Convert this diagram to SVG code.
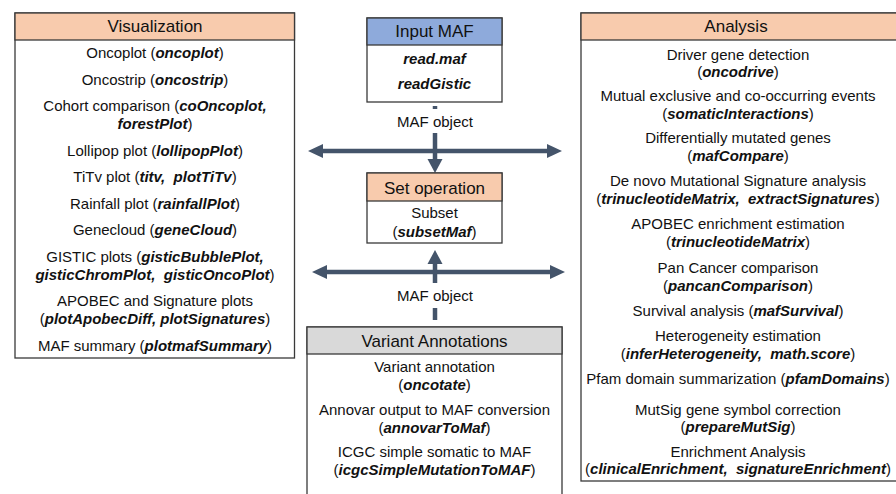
<svg xmlns="http://www.w3.org/2000/svg" width="896" height="494" viewBox="0 0 896 494">
<style>
text{font-family:"Liberation Sans",Arial,sans-serif;fill:#111;text-anchor:middle}
.h{font-size:17px}
.t{font-size:15px}
.b{font-weight:bold;font-style:italic}
.box{fill:#fff;stroke:#3a3a3a;stroke-width:1.3}
.hd{stroke:#3a3a3a;stroke-width:1.3}
.sal{fill:#f8cbad}
.blu{fill:#8eaadb}
.gry{fill:#d9d9d9}
.shaft{stroke:#44546a;stroke-width:4.5;fill:none}
.head{fill:#44546a}
</style>
<rect width="896" height="494" fill="#fff"/>

<g id="connectors">
  <!-- upper horizontal double arrow -->
  <line class="shaft" x1="320" y1="151" x2="550" y2="151"/>
  <polygon class="head" points="308,151 323,144 323,158"/>
  <polygon class="head" points="562,151 547,144 547,158"/>
  <!-- lower horizontal double arrow -->
  <line class="shaft" x1="324" y1="272" x2="553" y2="272"/>
  <polygon class="head" points="312,272 327,265 327,279"/>
  <polygon class="head" points="565,272 550,265 550,279"/>
  <!-- down arrow Input MAF -> Set operation -->
  <line class="shaft" x1="435" y1="106" x2="435" y2="109"/>
  <line class="shaft" x1="435" y1="133" x2="435" y2="161"/>
  <polygon class="head" points="435,173 427.5,159 442.5,159"/>
  <!-- up arrow Variant Annotations -> Set operation -->
  <line class="shaft" x1="435" y1="261" x2="435" y2="283"/>
  <polygon class="head" points="435,250 427.5,264 442.5,264"/>
  <line class="shaft" x1="435" y1="308" x2="435" y2="320"/>
  <text class="t" x="435" y="127">MAF object</text>
  <text class="t" x="435" y="301">MAF object</text>
</g>

<g id="visualization">
  <rect class="box" x="15" y="13" width="279.5" height="345"/>
  <rect class="hd sal" x="15" y="13" width="279.5" height="27"/>
  <text class="h" x="155" y="32">Visualization</text>
  <text class="t" x="155" y="58">Oncoplot (<tspan class="b">oncoplot</tspan>)</text>
  <text class="t" x="155" y="84.5">Oncostrip (<tspan class="b">oncostrip</tspan>)</text>
  <text class="t" x="155" y="111">Cohort comparison (<tspan class="b">coOncoplot,</tspan></text>
  <text class="t" x="155" y="129"><tspan class="b">forestPlot</tspan>)</text>
  <text class="t" x="155" y="155.5">Lollipop plot (<tspan class="b">lollipopPlot</tspan>)</text>
  <text class="t" x="155" y="182">TiTv plot (<tspan class="b">titv,&#160; plotTiTv</tspan>)</text>
  <text class="t" x="155" y="208.5">Rainfall plot (<tspan class="b">rainfallPlot</tspan>)</text>
  <text class="t" x="155" y="235">Genecloud (<tspan class="b">geneCloud</tspan>)</text>
  <text class="t" x="155" y="261.5">GISTIC plots (<tspan class="b">gisticBubblePlot,</tspan></text>
  <text class="t" x="155" y="279.5"><tspan class="b">gisticChromPlot,&#160; gisticOncoPlot</tspan>)</text>
  <text class="t" x="155" y="306">APOBEC and Signature plots</text>
  <text class="t" x="155" y="324">(<tspan class="b">plotApobecDiff, plotSignatures</tspan>)</text>
  <text class="t" x="155" y="350.5">MAF summary (<tspan class="b">plotmafSummary</tspan>)</text>
</g>

<g id="input-maf">
  <rect class="box" x="367" y="18" width="135" height="84"/>
  <rect class="hd blu" x="367" y="18" width="135" height="27"/>
  <text class="h" x="434.5" y="37">Input MAF</text>
  <text class="t b" x="434.5" y="64">read.maf</text>
  <text class="t b" x="434.5" y="89">readGistic</text>
</g>

<g id="set-operation">
  <rect class="box" x="367" y="173" width="135" height="70"/>
  <rect class="hd sal" x="367" y="173" width="135" height="28"/>
  <text class="h" x="434.5" y="194">Set operation</text>
  <text class="t" x="434.5" y="218">Subset</text>
  <text class="t" x="434.5" y="237">(<tspan class="b">subsetMaf</tspan>)</text>
</g>

<g id="variant-annotations">
  <rect class="box" x="307" y="327" width="255" height="180"/>
  <rect class="hd gry" x="307" y="327" width="255" height="27"/>
  <text class="h" x="434.5" y="346.5">Variant Annotations</text>
  <text class="t" x="434.5" y="372">Variant annotation</text>
  <text class="t" x="434.5" y="390">(<tspan class="b">oncotate</tspan>)</text>
  <text class="t" x="434.5" y="415">Annovar output to MAF conversion</text>
  <text class="t" x="434.5" y="433">(<tspan class="b">annovarToMaf</tspan>)</text>
  <text class="t" x="434.5" y="457">ICGC simple somatic to MAF</text>
  <text class="t" x="434.5" y="475">(<tspan class="b">icgcSimpleMutationToMAF</tspan>)</text>
</g>

<g id="analysis">
  <rect class="box" x="581" y="13" width="318" height="468"/>
  <rect class="hd sal" x="581" y="13" width="318" height="27"/>
  <text class="h" x="736" y="32">Analysis</text>
  <text class="t" x="738" y="60">Driver gene detection</text>
  <text class="t" x="738" y="77">(<tspan class="b">oncodrive</tspan>)</text>
  <text class="t" x="738" y="101">Mutual exclusive and co-occurring events</text>
  <text class="t" x="738" y="119">(<tspan class="b">somaticInteractions</tspan>)</text>
  <text class="t" x="738" y="143">Differentially mutated genes</text>
  <text class="t" x="738" y="161">(<tspan class="b">mafCompare</tspan>)</text>
  <text class="t" x="738" y="186">De novo Mutational Signature analysis</text>
  <text class="t" x="738" y="204">(<tspan class="b">trinucleotideMatrix,&#160; extractSignatures</tspan>)</text>
  <text class="t" x="738" y="229">APOBEC enrichment estimation</text>
  <text class="t" x="738" y="247">(<tspan class="b">trinucleotideMatrix</tspan>)</text>
  <text class="t" x="738" y="273">Pan Cancer comparison</text>
  <text class="t" x="738" y="291">(<tspan class="b">pancanComparison</tspan>)</text>
  <text class="t" x="738" y="316">Survival analysis (<tspan class="b">mafSurvival</tspan>)</text>
  <text class="t" x="738" y="341">Heterogeneity estimation</text>
  <text class="t" x="738" y="359">(<tspan class="b">inferHeterogeneity,&#160; math.score</tspan>)</text>
  <text class="t" x="738" y="384">Pfam domain summarization (<tspan class="b">pfamDomains</tspan>)</text>
  <text class="t" x="738" y="415">MutSig gene symbol correction</text>
  <text class="t" x="738" y="432">(<tspan class="b">prepareMutSig</tspan>)</text>
  <text class="t" x="738" y="457">Enrichment Analysis</text>
  <text class="t" x="738" y="474">(<tspan class="b">clinicalEnrichment,&#160; signatureEnrichment</tspan>)</text>
</g>
</svg>
